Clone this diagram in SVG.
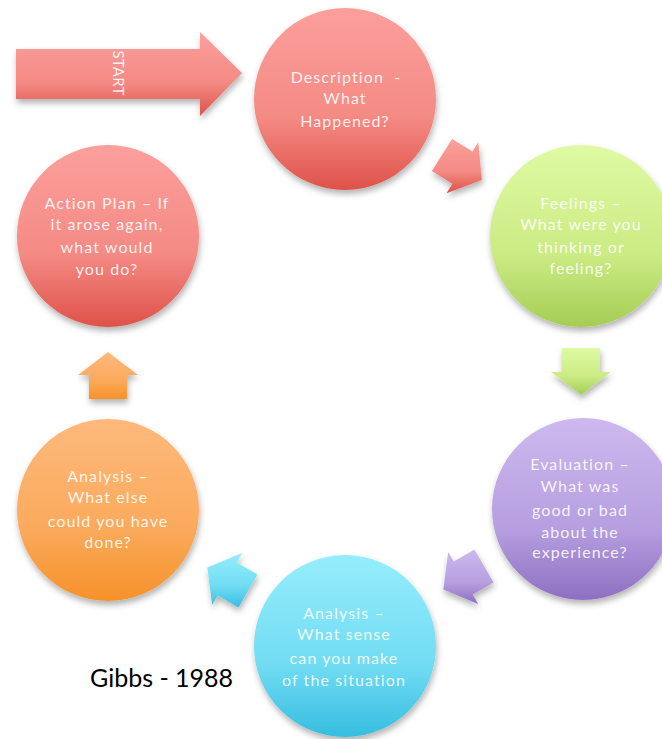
<svg xmlns="http://www.w3.org/2000/svg" width="662" height="739" viewBox="0 0 662 739">
<defs>
<linearGradient id="gRed" x1="0" y1="0" x2="0" y2="1"><stop offset="0" stop-color="#fc9f9c"/><stop offset="0.6" stop-color="#f48a84"/><stop offset="1" stop-color="#de5249"/></linearGradient>
<linearGradient id="gGreen" x1="0" y1="0" x2="0" y2="1"><stop offset="0" stop-color="#dffaa3"/><stop offset="0.6" stop-color="#cbeb84"/><stop offset="1" stop-color="#a5cd55"/></linearGradient>
<linearGradient id="gPurple" x1="0" y1="0" x2="0" y2="1"><stop offset="0" stop-color="#cdb9ee"/><stop offset="0.6" stop-color="#b79fe0"/><stop offset="1" stop-color="#8e6fc2"/></linearGradient>
<linearGradient id="gCyan" x1="0" y1="0" x2="0" y2="1"><stop offset="0" stop-color="#95edfc"/><stop offset="0.6" stop-color="#72dcf3"/><stop offset="1" stop-color="#36bde0"/></linearGradient>
<linearGradient id="gOrange" x1="0" y1="0" x2="0" y2="1"><stop offset="0" stop-color="#fdb97c"/><stop offset="0.6" stop-color="#fbaa5c"/><stop offset="1" stop-color="#f6922a"/></linearGradient>
<filter id="sh" x="-20%" y="-20%" width="140%" height="140%"><feDropShadow dx="1" dy="4" stdDeviation="3" flood-color="#000" flood-opacity="0.3"/></filter>
</defs>
<style>
.lbl{font-family:Lato,"Open Sans","Liberation Sans",sans-serif;font-size:16px;letter-spacing:1.1px;fill:#ffffff;fill-opacity:0.88;text-anchor:middle;white-space:pre}
.shape{filter:url(#sh)}
.cap{font-family:Lato,"Liberation Sans",sans-serif;font-size:25px;fill:#000}
</style>
<g id="start">
<path class="shape" d="M16,49 H200 V32 L242,73 L200,116 V99 H16 Z" fill="url(#gRed)"/>
<text class="lbl" transform="translate(113,73) rotate(90)" x="0" y="0" style="letter-spacing:0.2px;font-size:15px">START</text>
</g>
<g id="connectors">
<path class="shape" fill="url(#gRed)" d="M452.1,138.9 L472.4,151.6 L478.3,142.3 L481.9,179.9 L446.5,193.2 L452.3,183.8 L431.9,171.1 Z"/>
<path class="shape" fill="url(#gGreen)" d="M600,348 L600,372 L611,372 L581,395 L551,372 L562,372 L562,348 Z"/>
<path class="shape" fill="url(#gPurple)" d="M493.5,582.5 L472.7,594.5 L478.2,604 L443.3,589.5 L448.2,552 L453.7,561.6 L474.5,549.6 Z"/>
<path class="shape" fill="url(#gCyan)" d="M238.5,607.5 L217.7,595.5 L212.2,605 L207.3,567.5 L242.2,553 L236.7,562.6 L257.5,574.6 Z"/>
<path class="shape" fill="url(#gOrange)" d="M89,399 L89,375 L78,375 L108,352 L138,375 L127,375 L127,399 Z"/>
</g>
<g id="description">
<circle class="shape" cx="345" cy="99" r="91" fill="url(#gRed)"/>
<text class="lbl"><tspan x="346" y="83">Description  -</tspan><tspan x="345" y="104">What</tspan><tspan x="345" y="127">Happened?</tspan></text>
</g>
<g id="feelings">
<circle class="shape" cx="581" cy="236" r="91" fill="url(#gGreen)"/>
<text class="lbl"><tspan x="581" y="209">Feelings –</tspan><tspan x="581" y="230">What were you</tspan><tspan x="581" y="253">thinking or</tspan><tspan x="581" y="274">feeling?</tspan></text>
</g>
<g id="evaluation">
<circle class="shape" cx="583" cy="509" r="91" fill="url(#gPurple)"/>
<text class="lbl"><tspan x="580" y="470">Evaluation –</tspan><tspan x="580" y="492">What was</tspan><tspan x="580" y="516">good or bad</tspan><tspan x="580" y="538">about the</tspan><tspan x="580" y="558">experience?</tspan></text>
</g>
<g id="analysis-sense">
<circle class="shape" cx="345" cy="646" r="91" fill="url(#gCyan)"/>
<text class="lbl"><tspan x="344" y="619">Analysis –</tspan><tspan x="344" y="640">What sense</tspan><tspan x="344" y="664">can you make</tspan><tspan x="344" y="686">of the situation</tspan></text>
</g>
<g id="analysis-else">
<circle class="shape" cx="108" cy="510" r="91" fill="url(#gOrange)"/>
<text class="lbl"><tspan x="108" y="482">Analysis –</tspan><tspan x="108" y="503">What else</tspan><tspan x="108" y="527">could you have</tspan><tspan x="108" y="548">done?</tspan></text>
</g>
<g id="action-plan">
<circle class="shape" cx="108" cy="236" r="91" fill="url(#gRed)"/>
<text class="lbl"><tspan x="107" y="209">Action Plan – If</tspan><tspan x="107" y="230">it arose again,</tspan><tspan x="107" y="253">what would</tspan><tspan x="107" y="275">you do?</tspan></text>
</g>
<text class="cap" x="90" y="687">Gibbs - 1988</text>
</svg>
